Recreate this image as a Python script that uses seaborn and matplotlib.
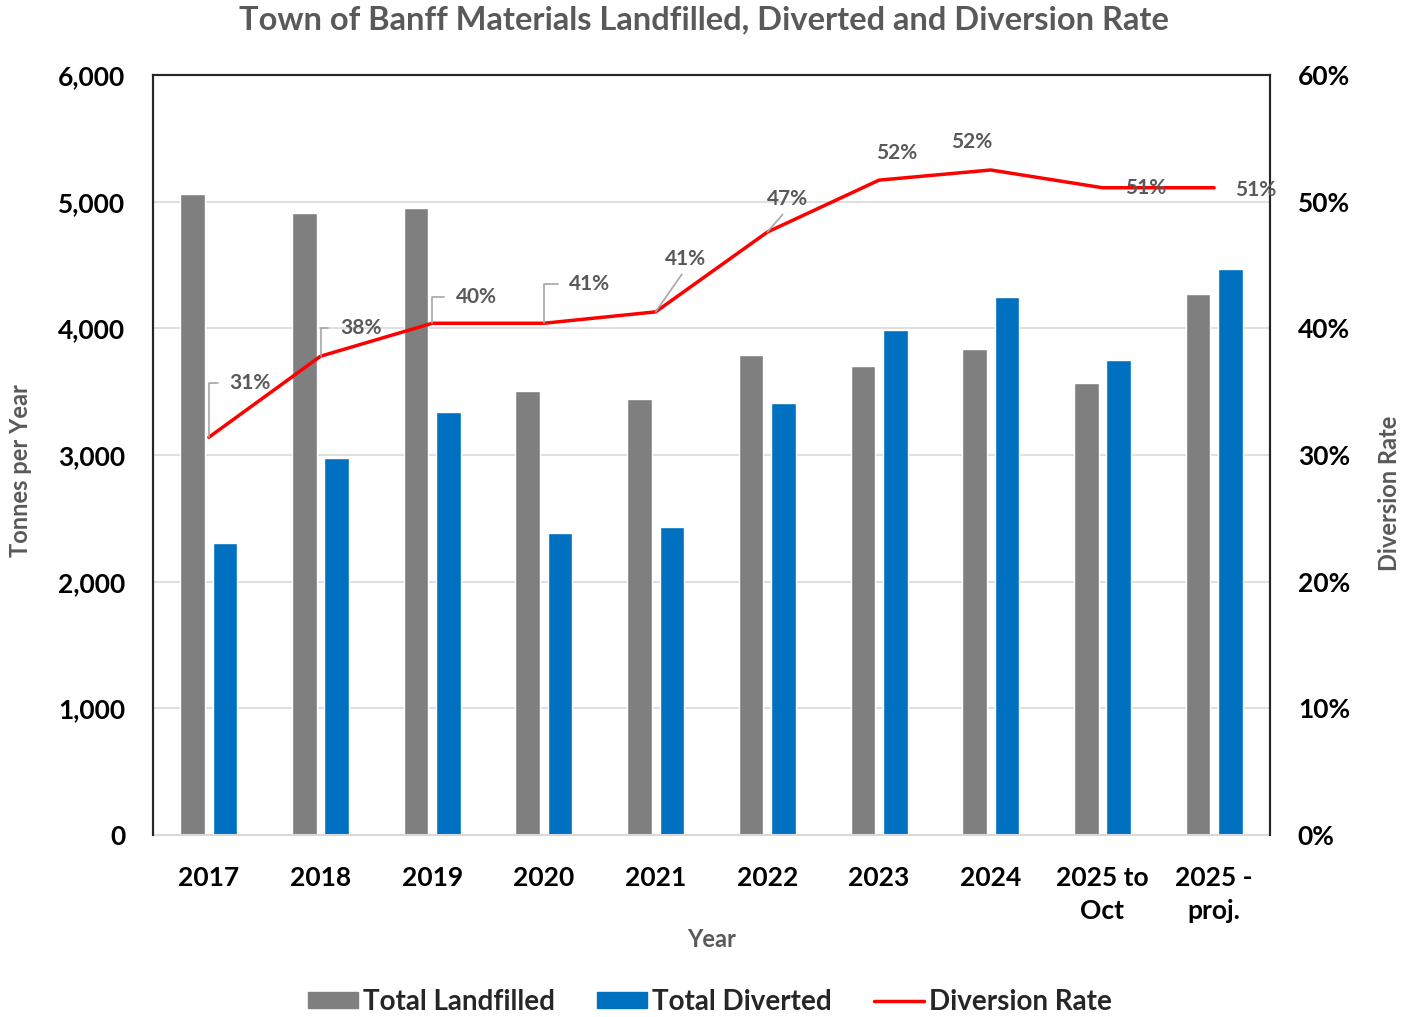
import numpy as np
import pandas as pd
import matplotlib
matplotlib.use('Agg')
import matplotlib.pyplot as plt
from matplotlib.patches import Patch
from matplotlib.lines import Line2D
from matplotlib.ticker import FuncFormatter, MultipleLocator
import seaborn as sns

# data
years = ['2017', '2018', '2019', '2020', '2021', '2022', '2023', '2024',
         '2025 to\nOct', '2025 -\nproj.']
landfilled = [5060, 4910, 4950, 3505, 3445, 3790, 3700, 3840, 3570, 4270]
diverted = [2305, 2975, 3340, 2385, 2430, 3410, 3985, 4245, 3750, 4470]
rate = [31.4, 37.8, 40.4, 40.4, 41.3, 47.6, 51.7, 52.5, 51.1, 51.1]
rate_labels = ['31%', '38%', '40%', '41%', '41%', '47%', '52%', '52%', '51%', '51%']

GRAY = '#7f7f7f'
BLUE = '#0070c0'
RED = '#ff0000'
TXT = '#595959'

sns.set_style('white')
plt.rcParams['font.family'] = ['Lato', 'DejaVu Sans']

df = pd.DataFrame({
    'Year': years * 2,
    'Series': ['Total Landfilled'] * len(years) + ['Total Diverted'] * len(years),
    'Tonnes': landfilled + diverted,
})

fig = plt.figure(figsize=(14.04, 10.17), dpi=100)
ax = fig.add_axes([153 / 1404, 1 - 835 / 1017, (1270 - 153) / 1404, (835 - 75) / 1017])

sns.barplot(data=df, x='Year', y='Tonnes', hue='Series', palette=[GRAY, BLUE],
            width=0.58, gap=0.24, saturation=1, legend=False, ax=ax)

ax.set_xlim(-0.5, len(years) - 0.5)
ax.set_ylim(0, 6000)
ax.yaxis.set_major_locator(MultipleLocator(1000))
ax.yaxis.set_major_formatter(FuncFormatter(lambda v, p: f'{int(v):,}'))
ax.grid(axis='y', color='#d9d9d9', linewidth=1.2)
ax.set_axisbelow(True)
ax.tick_params(axis='both', length=0, labelsize=19)
ax.tick_params(axis='y', pad=20)
ax.tick_params(axis='x', pad=22)
for t in ax.get_xticklabels() + ax.get_yticklabels():
    t.set_fontweight('bold')
    t.set_color('black')
    t.set_linespacing(1.45)

ax.set_ylabel('Tonnes per Year', fontweight='bold', fontsize=17, color=TXT)
ax.yaxis.set_label_coords(-0.108, 0.48)
ax.set_xlabel('Year', fontweight='bold', fontsize=17, color=TXT)
ax.xaxis.set_label_coords(0.5, -0.122)

for side in ['top', 'left', 'right']:
    ax.spines[side].set_color('#262626')
    ax.spines[side].set_linewidth(1.5)
ax.spines['bottom'].set_color('#d9d9d9')
ax.spines['bottom'].set_linewidth(1.5)

# diversion rate on the right axis
ax2 = ax.twinx()
xpos = np.arange(len(years))
sns.lineplot(x=xpos, y=rate, color=RED, linewidth=2.5, ax=ax2)
ax2.set_ylim(0, 60)
ax2.yaxis.set_major_locator(MultipleLocator(10))
ax2.yaxis.set_major_formatter(FuncFormatter(lambda v, p: f'{int(v)}%'))
ax2.tick_params(axis='y', length=0, labelsize=19, pad=20)
for t in ax2.get_yticklabels():
    t.set_fontweight('bold')
    t.set_color('black')
ax2.set_ylabel('Diversion Rate', fontweight='bold', fontsize=17, color=TXT)
ax2.yaxis.set_label_coords(1.097, 0.45)
for side in ['top', 'left', 'right']:
    ax2.spines[side].set_color('#262626')
    ax2.spines[side].set_linewidth(1.5)
ax2.spines['bottom'].set_visible(False)

# data labels (offsets in pixels); style: elbow / diag / none
offsets = [(41, 54, 'elbow'), (40, 28, 'elbow'), (44, 26, 'elbow'), (46, 39, 'elbow'),
           (30, 53, 'diag'), (20, 33, 'diag'), (18, 27, None), (-19, 28, None),
           (43, 0, None), (42, -2, None)]
for i, (dx, dy, kind) in enumerate(offsets):
    kw = dict(textcoords='offset pixels', ha='center', va='center',
              fontsize=15, fontweight='bold', color=TXT)
    if kind == 'elbow':
        kw['arrowprops'] = dict(arrowstyle='-', color='#a6a6a6', lw=1.2,
                                connectionstyle='angle,angleA=0,angleB=90,rad=0',
                                relpos=(0, 0.5), shrinkA=6, shrinkB=0)
    elif kind == 'diag':
        kw['arrowprops'] = dict(arrowstyle='-', color='#a6a6a6', lw=1.2,
                                relpos=(0.5, 0), shrinkA=2, shrinkB=0)
    ax2.annotate(rate_labels[i], (xpos[i], rate[i]), xytext=(dx, dy), **kw)

fig.suptitle('Town of Banff Materials Landfilled, Diverted and Diversion Rate',
             x=704 / 1404, y=1 - 20 / 1017, va='center', fontsize=23.5, fontweight='bold',
             color=TXT)

handles = [Patch(color=GRAY, label='Total Landfilled'),
           Patch(color=BLUE, label='Total Diverted'),
           Line2D([], [], color=RED, linewidth=2.5, label='Diversion Rate')]
fig.legend(handles=handles, loc='center', bbox_to_anchor=(710 / 1404, 1 - 1002 / 1017),
           ncol=3, frameon=False, handlelength=1.8, handleheight=0.5,
           handletextpad=0.2, columnspacing=1.5,
           prop={'weight': 'bold', 'size': 20})

fig.savefig('out.png', dpi=100)
